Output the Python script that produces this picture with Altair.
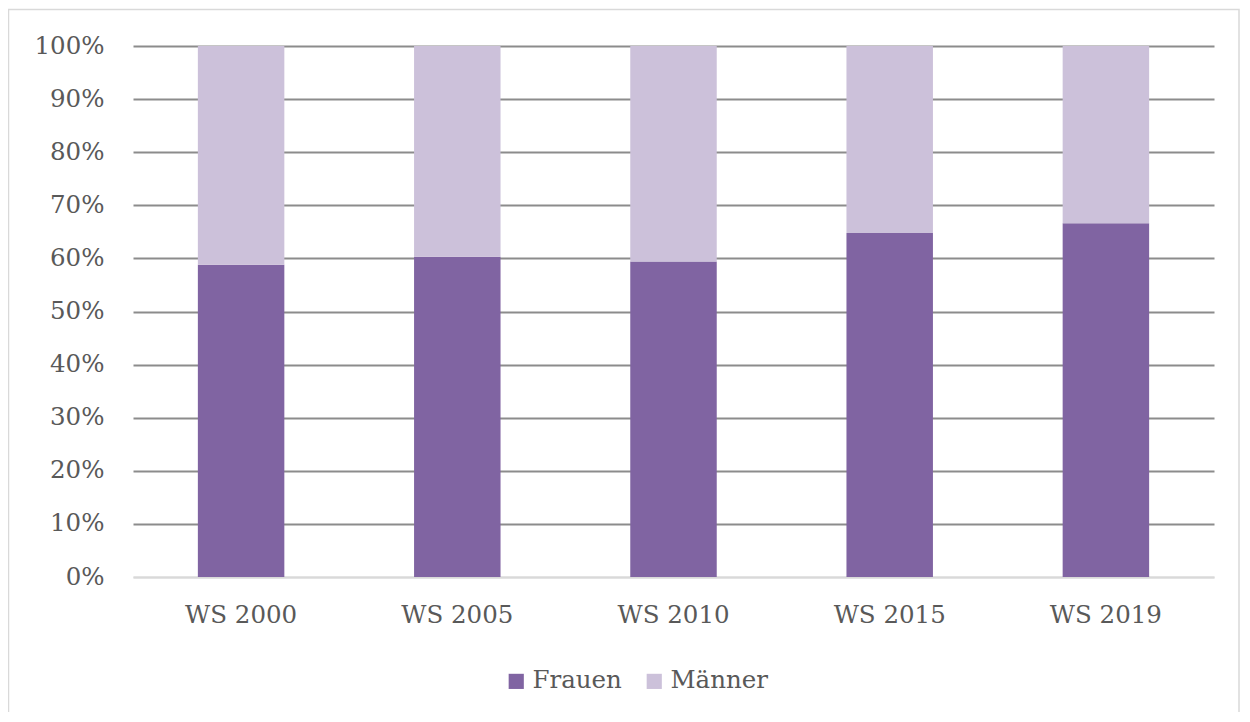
import altair as alt
import pandas as pd

semesters = ["WS 2000", "WS 2005", "WS 2010", "WS 2015", "WS 2019"]
frauen = [58.8, 60.3, 59.4, 64.8, 66.6]
maenner = [41.2, 39.7, 40.6, 35.2, 33.4]
series = ["Frauen", "Männer"]
colors = ["#8064A2", "#CCC1DA"]

rows = []
for i, s in enumerate(semesters):
    rows.append({"Semester": s, "Geschlecht": series[0], "Anteil": frauen[i], "ord": 0})
    rows.append({"Semester": s, "Geschlecht": series[1], "Anteil": maenner[i], "ord": 1})
df = pd.DataFrame(rows)

FONT = "DejaVu Serif"
TXT = "#595959"
FS = 24.5

bars = alt.Chart(df).mark_bar().encode(
    x=alt.X("Semester:N", sort=semesters, title=None,
            scale=alt.Scale(paddingInner=0.6, paddingOuter=0.3),
            axis=alt.Axis(labelAngle=0, ticks=False, domainColor="#D9D9D9", domainWidth=2,
                          labelFont=FONT, labelFontSize=FS, labelColor=TXT, labelPadding=26)),
    y=alt.Y("Anteil:Q", stack="normalize", title=None,
            scale=alt.Scale(domain=[0, 1]),
            axis=alt.Axis(format="%", values=[i / 10 for i in range(11)], ticks=False, domain=False,
                          labelFont=FONT, labelFontSize=FS, labelColor=TXT, labelPadding=29,
                          gridColor=alt.condition("datum.value == 0", alt.value("#D9D9D9"), alt.value("#8C8C8C")),
                          gridWidth=2)),
    color=alt.Color("Geschlecht:N", sort=series,
                    scale=alt.Scale(domain=series, range=colors),
                    legend=alt.Legend(title=None, orient="none", direction="horizontal",
                                      legendX=371, legendY=623, symbolType="square",
                                      symbolSize=230, symbolStrokeWidth=0,
                                      labelFont=FONT, labelFontSize=FS, labelColor=TXT,
                                      columnPadding=20, symbolOffset=0, labelOffset=4)),
    order=alt.Order("ord:Q", sort="ascending"),
)

border = alt.Chart(pd.DataFrame({"a": [0]})).mark_rect(
    fill=None, stroke="#D9D9D9", strokeWidth=1.5
).encode(x=alt.value(-124.5), x2=alt.value(1106), y=alt.value(-36.5), y2=alt.value(690))

chart = alt.layer(border, bars).properties(
    width=1081, height=531,
    autosize=alt.AutoSizeParams(type="none"),
    padding={"left": 125, "top": 38, "right": 26, "bottom": 135},
).configure_view(stroke=None)

chart.save("out.html", embed_options={"renderer": "svg", "actions": False})
